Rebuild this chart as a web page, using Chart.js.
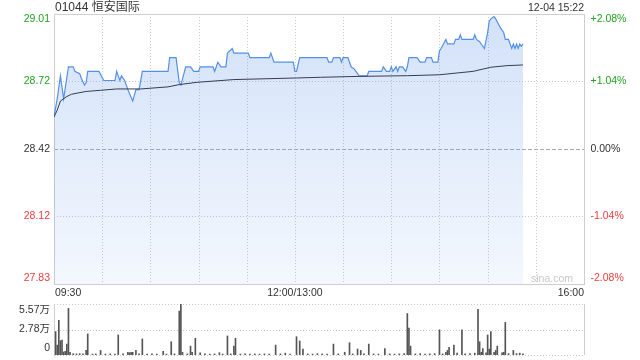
<!DOCTYPE html>
<html>
<head>
<meta charset="utf-8">
<script src="https://cdn.jsdelivr.net/npm/chart.js@4.4.0/dist/chart.umd.min.js"></script>
<style>
html, body { margin: 0; padding: 0; background: #fff; }
#wrap { position: relative; width: 640px; height: 360px; overflow: hidden; }
canvas { position: absolute; left: 0; }
#main { top: 0; width: 640px; height: 300px; }
#vol { top: 300px; width: 640px; height: 60px; }
</style>
</head>
<body>
<div id="wrap">
  <canvas id="main" width="640" height="300"></canvas>
  <canvas id="vol" width="640" height="60"></canvas>
</div>
<script>
// minutes since 09:30 (lunch break removed, 12:00 == 13:00 == 150)
const stockTitle = '01044 恒安国际';
const stamp = '12-04 15:22';
const prevClose = 28.42;
const pctSteps = [2.08, 1.04, 0, -1.04, -2.08];
const priceLabels = ['29.01', '28.72', '28.42', '28.12', '27.83'];
const pctLabels = ['+2.08%', '+1.04%', '0.00%', '-1.04%', '-2.08%'];
const timeLabels = ['09:30', '12:00/13:00', '16:00'];
const timeTickMin = [0, 150, 330];
const volTickVal = [55700, 27850, 0];
const volLabels = ['5.57万', '2.78万', '0'];

const priceMin = [0, 2, 4, 6, 9, 12, 13, 16, 17, 19, 20, 21, 28, 31, 38, 39, 41, 42, 44, 46, 49, 51, 53, 55,
  71, 72, 76, 78, 79, 82, 85, 87, 90, 91, 99, 100, 102, 104, 107, 108, 111, 112, 121, 122, 134, 135, 137,
  149, 150, 151, 153, 170, 171, 173, 174, 178, 179, 180, 183, 185, 187, 190, 195, 196, 204, 205, 207, 209,
  210, 211, 213, 214, 215, 217, 219, 220, 221, 226, 228, 231, 232, 235, 236, 239, 240, 241, 244, 245, 249,
  250, 252, 253, 254, 261, 262, 263, 265, 267, 268, 270, 271, 272, 274, 275, 278, 280, 281, 283, 285, 286,
  287, 288, 289, 290, 291, 292];
const priceVal = [28.56, 28.64, 28.74, 28.64, 28.78, 28.78, 28.76, 28.75, 28.73, 28.70, 28.71, 28.76, 28.76,
  28.72, 28.72, 28.76, 28.72, 28.74, 28.72, 28.68, 28.63, 28.68, 28.68, 28.76,
  28.76, 28.82, 28.82, 28.71, 28.70, 28.78, 28.78, 28.76, 28.76, 28.78, 28.78, 28.76, 28.80, 28.78, 28.78,
  28.84, 28.86, 28.84, 28.84, 28.82, 28.82, 28.84, 28.80,
  28.80, 28.76, 28.76, 28.82, 28.82, 28.80, 28.80, 28.82, 28.82, 28.80, 28.82, 28.82, 28.78, 28.77, 28.74,
  28.74, 28.76, 28.76, 28.78, 28.76, 28.76,
  28.78, 28.76, 28.78, 28.76, 28.78, 28.78, 28.76, 28.78, 28.82, 28.82, 28.80, 28.80, 28.82, 28.82, 28.80,
  28.80, 28.85, 28.86, 28.90, 28.88, 28.88,
  28.90, 28.90, 28.92, 28.90, 28.90, 28.92, 28.90, 28.89, 28.87, 28.86, 28.93, 28.98, 28.99, 29.00, 28.99,
  28.95, 28.93, 28.90, 28.90, 28.86, 28.88,
  28.86, 28.88, 28.86, 28.88, 28.87, 28.88];

const avgMin = [0, 2, 4, 8, 11, 20, 29, 39, 54, 71, 78, 89, 112, 151, 166, 190, 220, 240, 261, 272, 282, 292];
const avgVal = [28.56, 28.59, 28.63, 28.65, 28.66, 28.672, 28.677, 28.683, 28.683, 28.692, 28.702, 28.712,
  28.724, 28.731, 28.734, 28.738, 28.741, 28.745, 28.76, 28.778, 28.785, 28.788];

const volMin = [1, 2, 3, 4, 5, 6, 7, 8, 9, 10, 12, 14, 16, 18, 20, 21, 24, 26, 29, 32, 35, 38, 40, 43, 46, 47,
  48, 49, 51, 53, 55, 58, 61, 64, 68, 70, 73, 75, 78, 79, 80, 83, 85, 86, 88, 91, 94, 97, 100, 103, 105, 108,
  110, 112, 113, 116, 119, 122, 125, 128, 131, 134, 138, 141, 144, 147, 151, 153, 155, 158, 161, 164, 167,
  170, 174, 177, 181, 184, 186, 189, 191, 193, 196, 199, 202, 206, 209, 212, 215, 218, 220, 221, 222, 225,
  228, 231, 234, 237, 240, 242, 244, 245, 246, 249, 251, 254, 256, 259, 262, 264, 265, 266, 267, 269, 270,
  271, 272, 274, 275, 276, 279, 280, 281, 283, 286, 288, 290, 292];
const volVal = [25600, 10800, 37900, 15600, 16400, 3300, 4000, 11900, 50900, 3000, 1500, 1200, 1500, 1200,
  5200, 23000, 1000, 1200, 5000, 1000, 1200, 1000, 21900, 1200, 3000, 2500,
  3000, 3000, 5000, 1200, 17500, 1000, 1200, 1000, 4000, 1000, 14500, 1200, 47900, 55400, 3000, 1200, 9700,
  3000, 18200, 2500, 1200, 1000, 1200, 2500, 1000, 20800,
  1200, 9700, 18200, 1000, 1200, 1000, 1200, 1000, 1200, 1000, 10800, 1200, 2000, 1000, 20000, 15300, 6500,
  1200, 1000, 1500, 1200,
  1000, 11900, 1200, 3000, 13400, 1200, 6500, 5000, 1200, 11900, 1200, 1000, 7000, 1200, 1000, 1200, 1500,
  45300, 29400, 9700, 1200,
  1500, 1000, 1200, 1500, 27500, 1200, 3000, 5000, 8500, 10800, 2000, 27500, 1200, 1500, 2000, 49800, 14500,
  3000, 7000, 2500, 21900,
  6500, 25600, 3000, 5000, 9700, 2500, 3000, 35600, 1500, 5000, 1500, 2000, 1200];

const FONT = '10.5px "Liberation Sans", Arial, "Noto Sans CJK SC", sans-serif';
const GREEN = '#22a022';
const RED = '#f03c3c';
const TEXT = '#333';
const GRID = '#c8c8c8';

function crisp(v) { return Math.round(v) + 0.5; }
function seg(ctx, x1, y1, x2, y2) { ctx.beginPath(); ctx.moveTo(x1, y1); ctx.lineTo(x2, y2); ctx.stroke(); }
function signColor(p) { return p > 0 ? GREEN : (p < 0 ? RED : TEXT); }
function pctPrice(p) { return prevClose * (1 + p / 100); }

const mainFrame = {
  id: 'mainFrame',
  beforeDatasetsDraw(chart) {
    const { ctx, chartArea: a, scales: { x, y } } = chart;
    ctx.save();
    ctx.lineWidth = 1;
    ctx.strokeStyle = GRID;
    ctx.setLineDash([1, 2]);
    for (let m = 30; m < 330; m += 30) {
      const px = crisp(x.getPixelForValue(m));
      seg(ctx, px, a.top, px, a.bottom);
    }
    pctSteps.forEach(p => {
      if (Math.abs(p) === 2.08) return;
      const py = crisp(y.getPixelForValue(pctPrice(p)));
      if (p === 0) { ctx.setLineDash([4, 2]); ctx.strokeStyle = '#aaa'; }
      else { ctx.setLineDash([1, 2]); ctx.strokeStyle = GRID; }
      seg(ctx, a.left, py, a.right, py);
    });
    ctx.setLineDash([]);
    ctx.strokeStyle = '#cfcfcf';
    ctx.strokeRect(crisp(a.left), crisp(a.top), Math.round(a.right) - Math.round(a.left), Math.round(a.bottom) - Math.round(a.top));
    ctx.restore();
  },
  afterDraw(chart) {
    const { ctx, chartArea: a, scales: { x, y } } = chart;
    ctx.save();
    ctx.font = FONT;
    ctx.textBaseline = 'middle';
    pctSteps.forEach((p, i) => {
      let py = y.getPixelForValue(pctPrice(p));
      if (i === 0) py += 5.5;
      if (i === pctSteps.length - 1) py -= 5.5;
      ctx.fillStyle = signColor(p);
      ctx.textAlign = 'right';
      ctx.fillText(priceLabels[i], a.left - 4, py);
      ctx.textAlign = 'left';
      ctx.fillText(pctLabels[i], a.right + 6.5, py);
    });
    ctx.fillStyle = TEXT;
    const aligns = ['left', 'center', 'right'];
    timeLabels.forEach((t, i) => {
      ctx.textAlign = aligns[i];
      ctx.fillText(t, x.getPixelForValue(timeTickMin[i]) + (i === 0 ? 1 : 0), a.bottom + 9.5);
    });
    ctx.textAlign = 'right';
    ctx.fillText(stamp, a.right, 8);
    ctx.fillStyle = '#c8c8c8';
    ctx.fillText('sina.com', a.right - 11, a.bottom - 5);
    ctx.font = '12px "Liberation Sans", Arial, "Noto Sans CJK SC", sans-serif';
    ctx.fillStyle = TEXT;
    ctx.textAlign = 'left';
    ctx.fillText(stockTitle, a.left + 1, 7.5);
    ctx.restore();
  }
};

const volFrame = {
  id: 'volFrame',
  beforeDatasetsDraw(chart) {
    const { ctx, chartArea: a, scales: { y } } = chart;
    ctx.save();
    ctx.lineWidth = 1;
    ctx.strokeStyle = GRID;
    ctx.setLineDash([1, 2]);
    volTickVal.forEach(v => {
      const py = crisp(y.getPixelForValue(v));
      seg(ctx, a.left, py, a.right, py);
    });
    ctx.setLineDash([]);
    ctx.strokeStyle = '#cfcfcf';
    seg(ctx, crisp(a.left), a.top, crisp(a.left), a.bottom);
    seg(ctx, crisp(a.right), a.top, crisp(a.right), a.bottom);
    ctx.restore();
  },
  afterDraw(chart) {
    const { ctx, chartArea: a, scales: { y } } = chart;
    ctx.save();
    ctx.font = FONT;
    ctx.textBaseline = 'middle';
    ctx.textAlign = 'right';
    ctx.fillStyle = TEXT;
    volTickVal.forEach((v, i) => {
      let py = y.getPixelForValue(v);
      if (i === 0) py += 6;
      if (i === volTickVal.length - 1) py -= 6.5;
      ctx.fillText(volLabels[i], a.left - 4, py);
    });
    ctx.restore();
  }
};

const hiddenX = { type: 'linear', display: false, min: 0, max: 330, offset: false };

new Chart(document.getElementById('main'), {
  type: 'line',
  data: {
    datasets: [
      {
        label: 'avg',
        data: avgMin.map((m, i) => ({ x: m, y: avgVal[i] })),
        borderColor: '#333d52',
        borderWidth: 1,
        pointRadius: 0,
        fill: false,
        order: 0
      },
      {
        label: 'price',
        data: priceMin.map((m, i) => ({ x: m, y: priceVal[i] })),
        borderColor: '#5590e6',
        borderWidth: 1.2,
        pointRadius: 0,
        fill: 'start',
        backgroundColor: (c) => {
          const a = c.chart.chartArea;
          if (!a) return 'rgba(91,147,232,0.18)';
          const g = c.chart.ctx.createLinearGradient(0, a.top, 0, a.bottom);
          g.addColorStop(0, 'rgba(91,147,232,0.27)');
          g.addColorStop(1, 'rgba(91,147,232,0.07)');
          return g;
        },
        order: 1
      }
    ]
  },
  options: {
    responsive: false,
    animation: false,
    devicePixelRatio: 1,
    layout: { padding: { left: 54, right: 56, top: 14, bottom: 16 } },
    scales: {
      x: hiddenX,
      y: { display: false, min: pctPrice(-2.08), max: pctPrice(2.08) }
    },
    plugins: { legend: { display: false }, tooltip: { enabled: false } }
  },
  plugins: [mainFrame]
});

new Chart(document.getElementById('vol'), {
  type: 'bar',
  data: {
    datasets: [{
      label: 'volume',
      data: volMin.map((m, i) => ({ x: m, y: volVal[i] })),
      backgroundColor: '#555',
      borderWidth: 0,
      barThickness: 1
    }]
  },
  options: {
    responsive: false,
    animation: false,
    devicePixelRatio: 1,
    layout: { padding: { left: 54, right: 56, top: 4, bottom: 5 } },
    scales: {
      x: hiddenX,
      y: { display: false, min: 0, max: 55700 }
    },
    plugins: { legend: { display: false }, tooltip: { enabled: false } }
  },
  plugins: [volFrame]
});
</script>
</body>
</html>
